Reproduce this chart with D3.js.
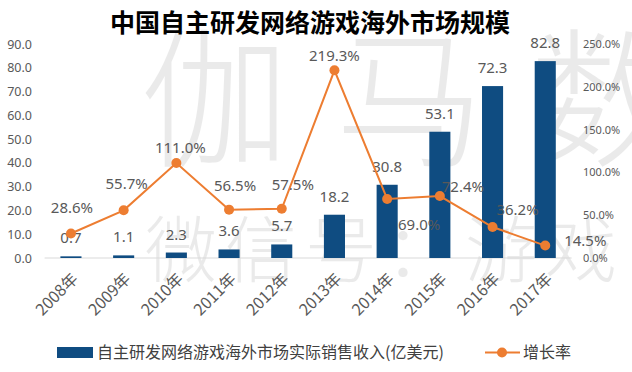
<!DOCTYPE html>
<html>
<head>
<meta charset="utf-8">
<script src="https://cdn.jsdelivr.net/npm/d3@7"></script>
<style>
  body { margin: 0; background: #fff; }
  text { font-family: "Noto Sans CJK SC", "Noto Sans", sans-serif; }
</style>
</head>
<body>
<div id="chart"></div>
<script>
// data
const years = ["2008年", "2009年", "2010年", "2011年", "2012年", "2013年", "2014年", "2015年", "2016年", "2017年"];
const revenue = [0.7, 1.1, 2.3, 3.6, 5.7, 18.2, 30.8, 53.1, 72.3, 82.8];
const growth = [28.6, 55.7, 111.0, 56.5, 57.5, 219.3, 69.0, 72.4, 36.2, 14.5];
const leftTicks = [0, 10, 20, 30, 40, 50, 60, 70, 80, 90];
const rightTicks = [0, 50, 100, 150, 200, 250];

// label offsets for growth labels (dx, dy from the point)
const growthLabelOffset = [[1, -21], [3, -21], [4, -10], [6, -19], [11, -19], [0, -9], [32, 31], [23, -4], [25, -12], [40, 0]];

const width = 632, height = 372;
const barColor = "#0f4c81", lineColor = "#ed7d31", textColor = "#595959";

const svg = d3.select("#chart").append("svg")
  .attr("width", width)
  .attr("height", height);

// watermark
const wm = svg.append("g").attr("fill", "#000").attr("opacity", 0.08).attr("font-weight", 300);
["伽", "马", "数"].forEach((c, i) => {
  wm.append("text").attr("x", 140 + i * 195).attr("y", 155)
    .attr("font-size", "150px").text(c);
});
["微", "信", "号", "：", "游", "戏", "…"].forEach((c, i) => {
  wm.append("text").attr("x", 145 + i * 80).attr("y", 276)
    .attr("font-size", "72px").text(c);
});

// scales
const x = d3.scaleBand().domain(years).range([44.6, 571.6]).padding(0);
const yL = d3.scaleLinear().domain([0, 90]).range([258, 44]);
const yR = d3.scaleLinear().domain([0, 250]).range([258, 44]);

// title
svg.append("text")
  .attr("x", 310).attr("y", 32)
  .attr("text-anchor", "middle")
  .attr("font-size", "25px")
  .attr("font-weight", "bold")
  .attr("fill", "#000")
  .text("中国自主研发网络游戏海外市场规模");

// left axis
const leftAxis = svg.append("g")
  .attr("transform", "translate(32,0)")
  .call(d3.axisLeft(yL).tickValues(leftTicks).tickSize(0).tickPadding(0).tickFormat(d3.format(".1f")));
leftAxis.select(".domain").remove();
leftAxis.selectAll("text").attr("fill", textColor).attr("font-size", "12.5px")
  .style("font-family", "'Noto Sans', sans-serif");

// right axis
const rightAxis = svg.append("g")
  .attr("transform", "translate(583,0)")
  .call(d3.axisRight(yR).tickValues(rightTicks).tickSize(0).tickPadding(0).tickFormat(d => d3.format(".1f")(d) + "%"));
rightAxis.select(".domain").remove();
rightAxis.selectAll("text").attr("fill", textColor).attr("font-size", "11px")
  .style("font-family", "'Noto Sans', sans-serif");

// baseline
svg.append("line")
  .attr("x1", 44.6).attr("x2", 571.6)
  .attr("y1", yL(0)).attr("y2", yL(0))
  .attr("stroke", "#d9d9d9").attr("stroke-width", 1);

// x axis labels
svg.append("g").selectAll("text")
  .data(years)
  .join("text")
  .attr("transform", d => `translate(${x(d) + x.bandwidth() / 2 + 8},${280}) rotate(-45)`)
  .attr("text-anchor", "end")
  .attr("font-size", "16px")
  .attr("fill", textColor)
  .text(d => d);

// bars
const barW = x.bandwidth() * 0.4;
svg.append("g").selectAll("rect")
  .data(revenue)
  .join("rect")
  .attr("x", (d, i) => x(years[i]) + x.bandwidth() / 2 - barW / 2)
  .attr("y", d => yL(d))
  .attr("width", barW)
  .attr("height", d => yL(0) - yL(d))
  .attr("fill", barColor);

// bar labels
svg.append("g").selectAll("text")
  .data(revenue)
  .join("text")
  .attr("x", (d, i) => x(years[i]) + x.bandwidth() / 2)
  .attr("y", d => yL(d) - 13)
  .attr("text-anchor", "middle")
  .attr("font-size", "15px")
  .attr("fill", textColor)
  .style("font-family", "'Noto Sans', sans-serif")
  .text(d => d.toFixed(1));

// growth line
const line = d3.line()
  .x((d, i) => x(years[i]) + x.bandwidth() / 2)
  .y(d => yR(d));

svg.append("path")
  .datum(growth)
  .attr("d", line)
  .attr("fill", "none")
  .attr("stroke", lineColor)
  .attr("stroke-width", 2);

svg.append("g").selectAll("circle")
  .data(growth)
  .join("circle")
  .attr("cx", (d, i) => x(years[i]) + x.bandwidth() / 2)
  .attr("cy", d => yR(d))
  .attr("r", 5)
  .attr("fill", lineColor);

// growth labels
svg.append("g").selectAll("text")
  .data(growth)
  .join("text")
  .attr("x", (d, i) => x(years[i]) + x.bandwidth() / 2 + growthLabelOffset[i][0])
  .attr("y", (d, i) => yR(d) + growthLabelOffset[i][1])
  .attr("text-anchor", "middle")
  .attr("font-size", "15px")
  .attr("fill", textColor)
  .style("font-family", "'Noto Sans', sans-serif")
  .text(d => d.toFixed(1) + "%");

// legend
const legend = svg.append("g");
legend.append("rect")
  .attr("x", 57).attr("y", 347).attr("width", 36).attr("height", 11)
  .attr("fill", barColor);
legend.append("text")
  .attr("x", 97).attr("y", 358)
  .attr("font-size", "16px").attr("fill", "#404040")
  .text("自主研发网络游戏海外市场实际销售收入(亿美元)");
legend.append("line")
  .attr("x1", 485).attr("x2", 520).attr("y1", 352.5).attr("y2", 352.5)
  .attr("stroke", lineColor).attr("stroke-width", 2);
legend.append("circle")
  .attr("cx", 502).attr("cy", 352.5).attr("r", 5).attr("fill", lineColor);
legend.append("text")
  .attr("x", 523).attr("y", 358)
  .attr("font-size", "16px").attr("fill", "#404040")
  .text("增长率");
</script>
</body>
</html>
